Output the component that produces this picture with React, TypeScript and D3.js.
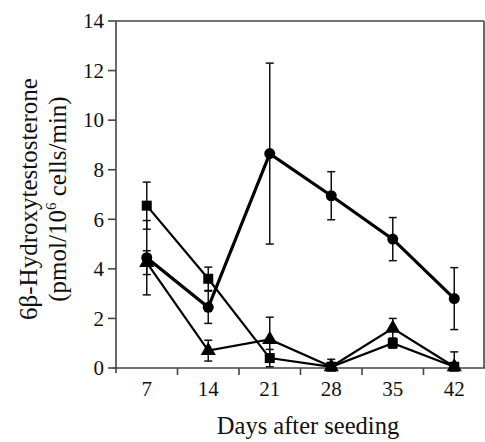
import React from "react";
import * as d3 from "d3";

const days = ["7", "14", "21", "28", "35", "42"];
const circleVals = [4.45, 2.45, 8.65, 6.95, 5.2, 2.8];
const circleErr = [1.5, 0.65, 3.65, 0.97, 0.87, 1.25];
const squareVals = [6.55, 3.6, 0.4, 0.05, 1.0, 0.05];
const squareErr = [0.95, 0.47, 0.35, 0.1, 0.2, 0.05];
const triangleVals = [4.25, 0.7, 1.15, 0.05, 1.6, 0.05];
const triangleErr = [0.48, 0.42, 0.9, 0.3, 0.4, 0.6];
const yTicks = [0, 2, 4, 6, 8, 10, 12, 14];

const W = 485;
const H = 442;
const left = 116;
const right = 485;
const top = 21;
const bottom = 368;
const FONT = "'Liberation Serif', 'Times New Roman', serif";

export default function App() {
  const x = d3.scaleBand<string>().domain(days).range([left, right]).padding(0);
  const y = d3.scaleLinear().domain([0, 14]).range([bottom, top]);
  const cx = (d: string) => (x(d) as number) + x.bandwidth() / 2;

  const line = d3
    .line<number>()
    .x((_, i) => cx(days[i]))
    .y((v) => y(v));

  const series = [
    { vals: circleVals, err: circleErr, shape: "circle", width: 3.2 },
    { vals: squareVals, err: squareErr, shape: "square", width: 2.2 },
    { vals: triangleVals, err: triangleErr, shape: "triangle", width: 2.2 },
  ];

  const triPath = d3.symbol(d3.symbolTriangle, 100)();

  return (
    <svg
      width={W}
      height={H}
      style={{ position: "absolute", left: 0, top: 0, background: "#fff" }}
      fontFamily={FONT}
    >
      <rect x={0} y={0} width={W} height={H} fill="#fff" />
      {/* frame */}
      <line x1={left} x2={484} y1={top} y2={top} stroke="#444" strokeWidth={1.6} />
      <line x1={484} x2={484} y1={top} y2={bottom} stroke="#444" strokeWidth={1.6} />
      <line x1={left} x2={left} y1={top} y2={bottom + 5} stroke="#444" strokeWidth={1.6} />
      <line x1={left - 3} x2={right} y1={bottom} y2={bottom} stroke="#444" strokeWidth={1.6} />
      {/* y ticks */}
      {yTicks.map((t) => (
        <g key={t}>
          <line x1={left - 8} x2={left} y1={y(t)} y2={y(t)} stroke="#444" strokeWidth={1.6} />
          <text x={left - 12} y={y(t)} dy="0.35em" textAnchor="end" fontSize={21} fill="#111">
            {t}
          </text>
        </g>
      ))}
      {/* x ticks */}
      {days.slice(1).map((d) => (
        <line
          key={d}
          x1={x(d) as number}
          x2={x(d) as number}
          y1={bottom}
          y2={bottom + 7}
          stroke="#444"
          strokeWidth={1.6}
        />
      ))}
      {days.map((d) => (
        <text key={d} x={cx(d)} y={396} textAnchor="middle" fontSize={21} fill="#111">
          {d}
        </text>
      ))}
      {/* error bars */}
      {series.map((s, si) =>
        s.vals.map((v, i) => {
          const hi = y(v + s.err[i]);
          const lo = y(Math.max(0, v - s.err[i]));
          const px = cx(days[i]);
          return (
            <g key={`e${si}-${i}`} stroke="#111" strokeWidth={1.5}>
              <line x1={px} x2={px} y1={hi} y2={lo} />
              <line x1={px - 4} x2={px + 4} y1={hi} y2={hi} />
              <line x1={px - 4} x2={px + 4} y1={lo} y2={lo} />
            </g>
          );
        })
      )}
      {/* lines */}
      {series.map((s, si) => (
        <path key={`l${si}`} d={line(s.vals) as string} fill="none" stroke="#000" strokeWidth={s.width} />
      ))}
      {/* markers */}
      {series.map((s, si) =>
        s.vals.map((v, i) => {
          const px = cx(days[i]);
          const py = y(v);
          if (s.shape === "circle")
            return <circle key={`m${si}-${i}`} cx={px} cy={py} r={5.5} fill="#000" />;
          if (s.shape === "square")
            return <rect key={`m${si}-${i}`} x={px - 5} y={py - 5} width={10} height={10} fill="#000" />;
          return (
            <path key={`m${si}-${i}`} d={triPath as string} transform={`translate(${px},${py})`} fill="#000" />
          );
        })
      )}
      {/* axis titles */}
      <text x={308} y={434} textAnchor="middle" fontSize={24.5} fill="#111">
        Days after seeding
      </text>
      <g transform="translate(37,199) rotate(-90)">
        <text x={0} y={0} textAnchor="middle" fontSize={25} fill="#111">
          6β-Hydroxytestosterone
        </text>
      </g>
      <g transform="translate(66,199) rotate(-90)">
        <text x={0} y={0} textAnchor="middle" fontSize={25} fill="#111">
          (pmol/10
          <tspan fontSize={15} dy={-10}>6</tspan>
          <tspan dy={10}> cells/min)</tspan>
        </text>
      </g>
    </svg>
  );
}
